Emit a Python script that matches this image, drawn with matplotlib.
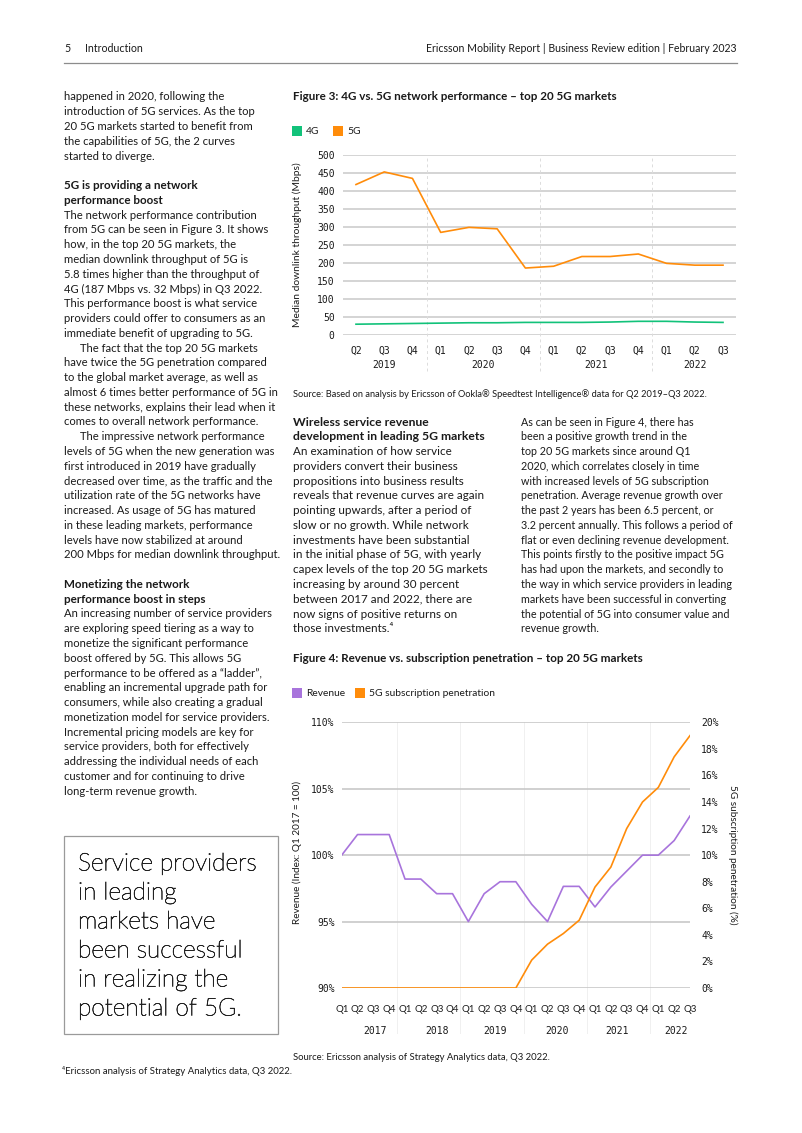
import matplotlib
matplotlib.use("Agg")
import matplotlib.pyplot as plt
import matplotlib.patheffects as pe
from matplotlib.patches import Rectangle
import numpy as np

# ---- data: figure 3 (median downlink throughput, Mbps) ----
quarters3 = ["Q2", "Q3", "Q4", "Q1", "Q2", "Q3", "Q4", "Q1", "Q2", "Q3", "Q4", "Q1", "Q2", "Q3"]
years3 = ["2019", "2020", "2021", "2022"]
year3_center = [1, 4.5, 8.5, 12]
tput_4g = [30, 31, 32, 33, 34, 34, 35, 35, 35, 36, 38, 38, 36, 35]
tput_5g = [418, 453, 435, 285, 299, 295, 186, 191, 218, 218, 225, 199, 194, 194]

# ---- data: figure 4 (revenue index, 5G penetration) ----
quarters4 = ["Q1", "Q2", "Q3", "Q4"] * 5 + ["Q1", "Q2", "Q3"]
years4 = ["2017", "2018", "2019", "2020", "2021", "2022"]
year4_center = [2.1, 6.0, 9.7, 13.6, 17.4, 21.1]
revenue = [100.0, 101.55, 101.55, 101.55, 98.2, 98.2, 97.1, 97.1, 95.0, 97.1, 98.0, 98.0,
           96.3, 95.0, 97.65, 97.65, 96.1, 97.6, 98.8, 100.0, 100.0, 101.1, 102.95]
penetration = [0, 0, 0, 0, 0, 0, 0, 0, 0, 0, 0, 0,
               2.1, 3.3, 4.1, 5.1, 7.6, 9.1, 12.0, 14.0, 15.1, 17.4, 19.0]

GREEN = "#12c27a"
ORANGE = "#ff8c0a"
PURPLE = "#a874dc"
TXT = "#1a1a1a"
BODY = "Lato"
MONO = "DejaVu Sans Mono"

W, H = 802, 1133
fig = plt.figure(figsize=(W / 100, H / 100), dpi=100)


def fx(x):
    return x / W


def fy(y):
    return 1 - y / H


def put(x, y, s, size=8.4, weight="normal", **kw):
    fig.text(fx(x), fy(y), s, fontsize=size, fontweight=weight, color=TXT,
             family=[BODY, "DejaVu Sans"], va="center", ha=kw.pop("ha", "left"), **kw)


def column(x, y0, lines, size, bsize=8.4, step=14.77):
    y = y0
    for ln in lines:
        if ln is None:
            y += step
            continue
        bold = ln.startswith("*")
        txt = ln.lstrip("*")
        indent = txt.startswith(">")
        txt = txt.lstrip(">")
        put(x + (16 if indent else 0), y, txt, size=bsize if bold else size,
            weight="bold" if bold else "normal")
        y += step


# ---- header ----
put(64, 49, "5", size=7.6)
put(85, 49, "Introduction", size=7.6)
put(737, 49, "Ericsson Mobility Report | Business Review edition | February 2023", size=7.6, ha="right")
fig.add_artist(plt.Line2D([fx(64), fx(737)], [fy(63), fy(63)], color="#8c8c8c", lw=0.9))

# ---- left column ----
left_lines = [
    "happened in 2020, following the",
    "introduction of 5G services. As the top",
    "20 5G markets started to benefit from",
    "the capabilities of 5G, the 2 curves",
    "started to diverge.",
    None,
    "*5G is providing a network",
    "*performance boost",
    "The network performance contribution",
    "from 5G can be seen in Figure 3. It shows",
    "how, in the top 20 5G markets, the",
    "median downlink throughput of 5G is",
    "5.8 times higher than the throughput of",
    "4G (187 Mbps vs. 32 Mbps) in Q3 2022.",
    "This performance boost is what service",
    "providers could offer to consumers as an",
    "immediate benefit of upgrading to 5G.",
    ">The fact that the top 20 5G markets",
    "have twice the 5G penetration compared",
    "to the global market average, as well as",
    "almost 6 times better performance of 5G in",
    "these networks, explains their lead when it",
    "comes to overall network performance.",
    ">The impressive network performance",
    "levels of 5G when the new generation was",
    "first introduced in 2019 have gradually",
    "decreased over time, as the traffic and the",
    "utilization rate of the 5G networks have",
    "increased. As usage of 5G has matured",
    "in these leading markets, performance",
    "levels have now stabilized at around",
    "200 Mbps for median downlink throughput.",
    None,
    "*Monetizing the network",
    "*performance boost in steps",
    "An increasing number of service providers",
    "are exploring speed tiering as a way to",
    "monetize the significant performance",
    "boost offered by 5G. This allows 5G",
    "performance to be offered as a \u201cladder\u201d,",
    "enabling an incremental upgrade path for",
    "consumers, while also creating a gradual",
    "monetization model for service providers.",
    "Incremental pricing models are key for",
    "service providers, both for effectively",
    "addressing the individual needs of each",
    "customer and for continuing to drive",
    "long-term revenue growth.",
]
column(64, 97, left_lines, 8.1)

# quote box
fig.add_artist(Rectangle((fx(64), fy(1034)), fx(278) - fx(64), fy(836) - fy(1034),
                         transform=fig.transFigure, fill=False, ec="#9a9a9a", lw=0.9))
quote = ["Service providers", "in leading", "markets have", "been successful",
         "in realizing the", "potential of 5G."]
for i, q in enumerate(quote):
    fig.text(fx(78), fy(864 + i * 29), q, fontsize=17.6, fontweight="light", color="#222222",
             family=[BODY, "DejaVu Sans"], va="center",
             path_effects=[pe.withStroke(linewidth=0.45, foreground="#222222")])

put(62, 1071, "\u2074Ericsson analysis of Strategy Analytics data, Q3 2022.", size=6.9)

# ---- middle / right columns ----
mid_lines = [
    "*Wireless service revenue",
    "*development in leading 5G markets",
    "An examination of how service",
    "providers convert their business",
    "propositions into business results",
    "reveals that revenue curves are again",
    "pointing upwards, after a period of",
    "slow or no growth. While network",
    "investments have been substantial",
    "in the initial phase of 5G, with yearly",
    "capex levels of the top 20 5G markets",
    "increasing by around 30 percent",
    "between 2017 and 2022, there are",
    "now signs of positive returns on",
    "those investments.\u2074",
]
column(293, 422, mid_lines, 8.4, bsize=8.7)
right_lines = [
    "As can be seen in Figure 4, there has",
    "been a positive growth trend in the",
    "top 20 5G markets since around Q1",
    "2020, which correlates closely in time",
    "with increased levels of 5G subscription",
    "penetration. Average revenue growth over",
    "the past 2 years has been 6.5 percent, or",
    "3.2 percent annually. This follows a period of",
    "flat or even declining revenue development.",
    "This points firstly to the positive impact 5G",
    "has had upon the markets, and secondly to",
    "the way in which service providers in leading",
    "markets have been successful in converting",
    "the potential of 5G into consumer value and",
    "revenue growth.",
]
column(521, 422, right_lines, 7.75)

# ---- figure 3 ----
put(293, 97, "Figure 3: 4G vs. 5G network performance \u2013 top 20 5G markets", weight="bold")


def legend_item(x, y, color, label):
    fig.add_artist(Rectangle((fx(x), fy(y + 5)), 10 / W, 10 / H, transform=fig.transFigure,
                             color=color, lw=0))
    put(x + 14, y, label, size=7.4)


legend_item(292, 131, GREEN, "4G")
legend_item(333, 131, ORANGE, "5G")

ax3 = fig.add_axes([fx(343), fy(335), (736 - 343) / W, (335 - 155) / H])
x3 = np.arange(len(quarters3))
ax3.plot(x3, tput_4g, color=GREEN, lw=1.2, zorder=3)
ax3.plot(x3, tput_5g, color=ORANGE, lw=1.2, zorder=3)
ax3.set_xlim(-0.46, len(quarters3) - 1 + 0.46)
ax3.set_ylim(0, 500)
ax3.set_yticks(np.arange(0, 501, 50))
ax3.set_xticks(x3)
ax3.set_xticklabels(quarters3)
ax3.grid(axis="y", color="#d4d4d4", lw=1.4)
ax3.set_axisbelow(True)
for s in ax3.spines.values():
    s.set_visible(False)
ax3.tick_params(length=0, labelsize=7, colors=TXT, pad=6)
ax3.tick_params(axis="x", pad=8)
for lab in ax3.get_xticklabels() + ax3.get_yticklabels():
    lab.set_family(MONO)
for b in [2.5, 6.5, 10.5]:
    ax3.axvline(b, ymin=-0.2, ymax=1, color="#dcdcdc", lw=0.7, ls=(0, (3, 3)), clip_on=False)
for yr, c in zip(years3, year3_center):
    ax3.text(c, -0.167, yr, transform=ax3.get_xaxis_transform(), ha="center", va="center",
             fontsize=7, family=MONO, color=TXT)
fig.text(fx(297), fy(245), "Median downlink throughput (Mbps)", rotation=90, fontsize=7.4,
         family=BODY, color=TXT, ha="center", va="center")

put(293, 394, "Source: Based on analysis by Ericsson of Ookla\u00ae Speedtest Intelligence\u00ae data for Q2 2019\u2013Q3 2022.", size=6.65)

# ---- figure 4 ----
put(293, 658, "Figure 4: Revenue vs. subscription penetration \u2013 top 20 5G markets", weight="bold")
legend_item(292, 693, PURPLE, "Revenue")
legend_item(355, 693, ORANGE, "5G subscription penetration")

ax4 = fig.add_axes([fx(341.7), fy(988), (690 - 341.7) / W, (988 - 722.3) / H])
x4 = np.arange(len(quarters4))
ax4.set_xlim(0, len(quarters4) - 1)
ax4.set_ylim(90, 110)
ax4.set_yticks([90, 95, 100, 105, 110])
ax4.set_yticklabels([f"{v}%" for v in [90, 95, 100, 105, 110]])
ax4.grid(axis="y", color="#c8c8c8", lw=1.2)
ax4.set_axisbelow(True)
ax4.set_xticks(x4)
ax4.set_xticklabels(quarters4)
ax4.plot(x4, revenue, color=PURPLE, lw=1.2, zorder=3)
ax4r = ax4.twinx()
ax4r.set_ylim(0, 20)
ax4r.set_yticks(np.arange(0, 21, 2))
ax4r.set_yticklabels([f"{v}%" for v in range(0, 21, 2)])
ax4r.plot(x4, penetration, color=ORANGE, lw=1.2, zorder=3)
for a in (ax4, ax4r):
    for s in a.spines.values():
        s.set_visible(False)
    a.tick_params(length=0, labelsize=7, colors=TXT, pad=5)
    for lab in a.get_yticklabels():
        lab.set_family(MONO)
for lab in ax4.get_xticklabels():
    lab.set_family(BODY)
    lab.set_fontsize(6.9)
ax4.tick_params(axis="x", pad=12)
ax4r.tick_params(axis="y", pad=8)
for b in [3.5, 7.5, 11.5, 15.5, 19.5]:
    ax4.axvline(b, ymin=-0.17, ymax=1, color="#f0f0f0", lw=0.7, clip_on=False, zorder=0)
for yr, c in zip(years4, year4_center):
    ax4.text(c, -0.161, yr, transform=ax4.get_xaxis_transform(), ha="center", va="center",
             fontsize=7, family=MONO, color=TXT)
fig.text(fx(297), fy(852), "Revenue (Index: Q1 2017 = 100)", rotation=90, fontsize=7.2,
         family=BODY, color=TXT, ha="center", va="center")
fig.text(fx(733), fy(855), "5G subscription penetration (%)", rotation=270, fontsize=7.2,
         family=BODY, color=TXT, ha="center", va="center")

put(293, 1057, "Source: Ericsson analysis of Strategy Analytics data, Q3 2022.", size=6.8)

fig.savefig("out.png", dpi=100)
